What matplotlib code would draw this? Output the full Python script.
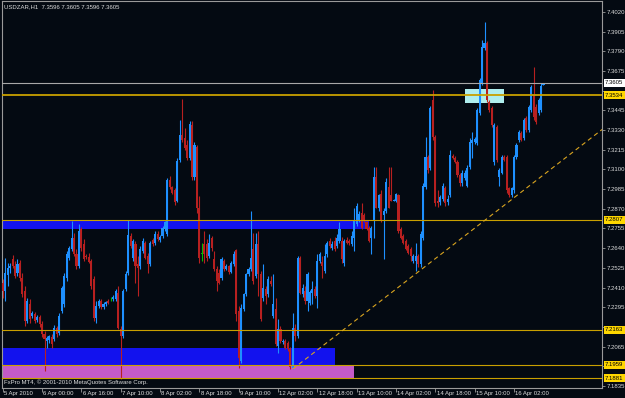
import matplotlib
matplotlib.use("Agg")
import matplotlib.pyplot as plt
import matplotlib.transforms as mtransforms
from matplotlib.patches import Rectangle

plt.rcParams['font.family'] = ['Liberation Sans', 'DejaVu Sans']

# ==========================
# DATA  (USDZAR, H1)
# ==========================
opens = [
    7.2438, 7.2391, 7.2485, 7.2526, 7.2579, 7.2538, 7.2497, 7.2555, 7.2467, 7.2391,
    7.2215, 7.2315, 7.2245, 7.2256, 7.2221, 7.2239, 7.2198, 7.2139, 7.2098, 7.2104,
    7.2122, 7.2110, 7.2174, 7.2145, 7.2274, 7.2315, 7.2467, 7.2584, 7.2637, 7.2702,
    7.2608, 7.2538, 7.2754, 7.2666, 7.2596, 7.2590, 7.2567, 7.2461, 7.2233, 7.2303,
    7.2333, 7.2297, 7.2315, 7.2333, 7.2344, 7.2344, 7.2344, 7.2379, 7.2169, 7.2128,
    7.2403, 7.2497, 7.2713, 7.2584, 7.2666, 7.2549, 7.2538, 7.2626, 7.2672, 7.2596,
    7.2549, 7.2690, 7.2672, 7.2725, 7.2690, 7.2713, 7.2754, 7.2725, 7.3041, 7.2995,
    7.2977, 7.2918, 7.3153, 7.3299, 7.3282, 7.3241, 7.3164, 7.3358, 7.3053, 7.3229,
    7.2877, 7.2608, 7.2666, 7.2666, 7.2596, 7.2702, 7.2579, 7.2520, 7.2497, 7.2467,
    7.2567, 7.2520, 7.2538, 7.2502, 7.2549, 7.2631, 7.2274, 7.1981, 7.2286, 7.2374,
    7.2491, 7.2520, 7.2637, 7.2479, 7.2666, 7.2491, 7.2350, 7.2403, 7.2374, 7.2450,
    7.2245, 7.2286, 7.2069, 7.2169, 7.2092, 7.2098, 7.2087, 7.2051, 7.1940, 7.2174,
    7.2128, 7.2584, 7.2374, 7.2391, 7.2333, 7.2321, 7.2379, 7.2403, 7.2362, 7.2567,
    7.2561, 7.2508, 7.2608, 7.2684, 7.2643, 7.2684, 7.2655, 7.2684, 7.2684, 7.2555,
    7.2690, 7.2684, 7.2666, 7.2702, 7.2784, 7.2801, 7.2848, 7.2831, 7.2790, 7.2760,
    7.2702, 7.2801, 7.3053, 7.2872, 7.2959, 7.2831, 7.2860, 7.2995, 7.2948, 7.2918,
    7.2918, 7.2948, 7.2754, 7.2713, 7.2684, 7.2655, 7.2637, 7.2567, 7.2567, 7.2596,
    7.2549, 7.2702, 7.2995, 7.3170, 7.3106, 7.3504, 7.3287, 7.2918, 7.2907, 7.2930,
    7.2989, 7.2907, 7.2948, 7.3176, 7.3164, 7.3141, 7.3065, 7.3018, 7.3047, 7.3006,
    7.3112, 7.3252, 7.3258, 7.3252, 7.3428, 7.3604, 7.3809, 7.3838, 7.3492, 7.3457,
    7.3141, 7.3346, 7.3053, 7.3082, 7.3170, 7.3170, 7.2989, 7.2948, 7.2977, 7.3170,
    7.3270, 7.3311, 7.3282, 7.3399, 7.3329, 7.3446, 7.3533, 7.3463, 7.3428, 7.3446,
    7.3596,
]
highs = [
    7.2461, 7.2584, 7.2555, 7.2555, 7.2602, 7.2567, 7.2579, 7.2573, 7.2497, 7.2420,
    7.2350, 7.2344, 7.2274, 7.2268, 7.2251, 7.2251, 7.2215, 7.2157, 7.2128, 7.2133,
    7.2139, 7.2192, 7.2186, 7.2262, 7.2420, 7.2497, 7.2626, 7.2655, 7.2801, 7.2731,
    7.2637, 7.2784, 7.2766, 7.2696, 7.2608, 7.2614, 7.2579, 7.2479, 7.2333, 7.2344,
    7.2344, 7.2327, 7.2333, 7.2344, 7.2356, 7.2368, 7.2403, 7.2420, 7.2186, 7.2403,
    7.2508, 7.2807, 7.2731, 7.2696, 7.2684, 7.2596, 7.2655, 7.2702, 7.2684, 7.2614,
    7.2684, 7.2702, 7.2743, 7.2743, 7.2719, 7.2772, 7.2801, 7.3047, 7.3059, 7.3006,
    7.2989, 7.3164, 7.3387, 7.3510, 7.3340, 7.3270, 7.3381, 7.3381, 7.3258, 7.3241,
    7.2942, 7.2672, 7.2743, 7.2696, 7.2725, 7.2713, 7.2626, 7.2538, 7.2520, 7.2590,
    7.2579, 7.2549, 7.2543, 7.2567, 7.2626, 7.2637, 7.2303, 7.2315, 7.2379, 7.2497,
    7.2532, 7.2860, 7.2731, 7.2731, 7.2743, 7.2508, 7.2549, 7.2420, 7.2479, 7.2479,
    7.2491, 7.2350, 7.2227, 7.2186, 7.2110, 7.2110, 7.2098, 7.2063, 7.2262, 7.2198,
    7.2596, 7.2596, 7.2432, 7.2420, 7.2502, 7.2397, 7.2450, 7.2420, 7.2608, 7.2620,
    7.2596, 7.2666, 7.2684, 7.2702, 7.2684, 7.2707, 7.2725, 7.2790, 7.2707, 7.2696,
    7.2707, 7.2696, 7.2743, 7.2877, 7.2901, 7.2860, 7.2901, 7.2848, 7.2801, 7.2772,
    7.2772, 7.3112, 7.3112, 7.2959, 7.2977, 7.2872, 7.3047, 7.3112, 7.3112, 7.2930,
    7.2965, 7.2959, 7.2766, 7.2725, 7.2696, 7.2666, 7.2649, 7.2608, 7.2672, 7.2608,
    7.2743, 7.3018, 7.3287, 7.3182, 7.3469, 7.3563, 7.3299, 7.2977, 7.2948, 7.3018,
    7.3006, 7.2948, 7.3211, 7.3188, 7.3176, 7.3153, 7.3077, 7.3094, 7.3094, 7.3123,
    7.3282, 7.3317, 7.3287, 7.3457, 7.3633, 7.3856, 7.3961, 7.3850, 7.3504, 7.3469,
    7.3369, 7.3358, 7.3106, 7.3182, 7.3182, 7.3182, 7.3000, 7.3000, 7.3182, 7.3252,
    7.3329, 7.3323, 7.3399, 7.3410, 7.3475, 7.3592, 7.3698, 7.3481, 7.3516, 7.3604,
    7.3605,
]
lows = [
    7.2350, 7.2333, 7.2420, 7.2497, 7.2526, 7.2467, 7.2479, 7.2450, 7.2356, 7.2186,
    7.2204, 7.2204, 7.2233, 7.2204, 7.2210, 7.2180, 7.2122, 7.1923, 7.2057, 7.2087,
    7.2057, 7.2098, 7.2122, 7.2133, 7.2262, 7.2297, 7.2450, 7.2573, 7.2626, 7.2596,
    7.2520, 7.2526, 7.2626, 7.2567, 7.2579, 7.2555, 7.2403, 7.2215, 7.2204, 7.2292,
    7.2286, 7.2286, 7.2303, 7.2315, 7.2333, 7.2333, 7.2333, 7.2169, 7.1876, 7.2116,
    7.2391, 7.2485, 7.2643, 7.2567, 7.2438, 7.2362, 7.2520, 7.2614, 7.2579, 7.2497,
    7.2538, 7.2655, 7.2661, 7.2684, 7.2678, 7.2702, 7.2743, 7.2713, 7.2983, 7.2954,
    7.2895, 7.2907, 7.3141, 7.3258, 7.3211, 7.3153, 7.3153, 7.3036, 7.3041, 7.2848,
    7.2555, 7.2567, 7.2555, 7.2567, 7.2584, 7.2626, 7.2508, 7.2391, 7.2432, 7.2456,
    7.2508, 7.2514, 7.2491, 7.2497, 7.2538, 7.2215, 7.1940, 7.1969, 7.2274, 7.2362,
    7.2479, 7.2508, 7.2432, 7.2467, 7.2362, 7.2215, 7.2333, 7.2315, 7.2356, 7.2420,
    7.2233, 7.2069, 7.2028, 7.2087, 7.2081, 7.2051, 7.2040, 7.1934, 7.1934, 7.2098,
    7.2116, 7.2374, 7.2356, 7.2315, 7.2274, 7.2309, 7.2315, 7.2350, 7.2292, 7.2555,
    7.2467, 7.2497, 7.2590, 7.2643, 7.2631, 7.2626, 7.2643, 7.2672, 7.2555, 7.2538,
    7.2666, 7.2661, 7.2655, 7.2626, 7.2772, 7.2790, 7.2754, 7.2790, 7.2749, 7.2678,
    7.2608, 7.2702, 7.2872, 7.2860, 7.2790, 7.2579, 7.2848, 7.2872, 7.2913, 7.2913,
    7.2907, 7.2731, 7.2696, 7.2666, 7.2631, 7.2608, 7.2567, 7.2555, 7.2508, 7.2532,
    7.2532, 7.2690, 7.2983, 7.3082, 7.3094, 7.3270, 7.2889, 7.2883, 7.2895, 7.2918,
    7.2889, 7.2895, 7.2936, 7.3159, 7.3135, 7.3053, 7.3006, 7.3006, 7.3036, 7.2995,
    7.3100, 7.3164, 7.3246, 7.3241, 7.3416, 7.3592, 7.3797, 7.3492, 7.3434, 7.3346,
    7.3123, 7.3141, 7.3006, 7.3071, 7.3147, 7.2965, 7.2936, 7.2936, 7.2965, 7.3159,
    7.3258, 7.3264, 7.3270, 7.3317, 7.3317, 7.3434, 7.3387, 7.3364, 7.3416, 7.3434,
    7.3596,
]
closes = [
    7.2391, 7.2497, 7.2526, 7.2538, 7.2538, 7.2479, 7.2549, 7.2467, 7.2374, 7.2215,
    7.2333, 7.2227, 7.2262, 7.2215, 7.2239, 7.2198, 7.2139, 7.2110, 7.2116, 7.2128,
    7.2081, 7.2174, 7.2139, 7.2245, 7.2409, 7.2479, 7.2608, 7.2643, 7.2702, 7.2608,
    7.2538, 7.2743, 7.2643, 7.2579, 7.2590, 7.2561, 7.2420, 7.2233, 7.2303, 7.2333,
    7.2297, 7.2315, 7.2327, 7.2321, 7.2344, 7.2356, 7.2391, 7.2174, 7.2128, 7.2391,
    7.2491, 7.2719, 7.2655, 7.2684, 7.2538, 7.2526, 7.2637, 7.2684, 7.2584, 7.2549,
    7.2672, 7.2666, 7.2725, 7.2696, 7.2707, 7.2760, 7.2790, 7.3036, 7.2995, 7.2965,
    7.2907, 7.3147, 7.3299, 7.3270, 7.3223, 7.3164, 7.3364, 7.3053, 7.3241, 7.2877,
    7.2584, 7.2608, 7.2608, 7.2584, 7.2672, 7.2643, 7.2520, 7.2450, 7.2438, 7.2579,
    7.2520, 7.2538, 7.2502, 7.2555, 7.2608, 7.2256, 7.1999, 7.2292, 7.2374, 7.2491,
    7.2520, 7.2584, 7.2450, 7.2666, 7.2491, 7.2227, 7.2409, 7.2362, 7.2461, 7.2432,
    7.2315, 7.2081, 7.2169, 7.2098, 7.2098, 7.2057, 7.2051, 7.1946, 7.2174, 7.2128,
    7.2584, 7.2379, 7.2409, 7.2333, 7.2491, 7.2385, 7.2403, 7.2362, 7.2567, 7.2608,
    7.2538, 7.2596, 7.2672, 7.2655, 7.2666, 7.2637, 7.2702, 7.2754, 7.2579, 7.2684,
    7.2672, 7.2672, 7.2713, 7.2801, 7.2889, 7.2842, 7.2760, 7.2801, 7.2754, 7.2684,
    7.2760, 7.3053, 7.2877, 7.2948, 7.2801, 7.2860, 7.3024, 7.2877, 7.2918, 7.2924,
    7.2954, 7.2743, 7.2702, 7.2672, 7.2637, 7.2614, 7.2596, 7.2596, 7.2596, 7.2549,
    7.2725, 7.3006, 7.3170, 7.3094, 7.3457, 7.3287, 7.2901, 7.2901, 7.2936, 7.3006,
    7.2901, 7.2930, 7.3182, 7.3164, 7.3141, 7.3065, 7.3018, 7.3077, 7.3077, 7.3106,
    7.3258, 7.3270, 7.3276, 7.3446, 7.3621, 7.3815, 7.3838, 7.3504, 7.3446, 7.3358,
    7.3358, 7.3153, 7.3094, 7.3170, 7.3153, 7.2977, 7.2948, 7.2989, 7.3170, 7.3241,
    7.3317, 7.3270, 7.3387, 7.3329, 7.3463, 7.3580, 7.3405, 7.3375, 7.3504, 7.3586,
    7.3605,
]

# time axis labels (every 16 bars)
tick_bars = [0, 16, 32, 48, 64, 80, 96, 112, 128, 144, 160, 176, 192, 208]
tick_labels = ["5 Apr 2010", "6 Apr 00:00", "6 Apr 16:00", "7 Apr 10:00",
               "8 Apr 02:00", "8 Apr 18:00", "9 Apr 10:00", "12 Apr 02:00",
               "12 Apr 18:00", "13 Apr 10:00", "14 Apr 02:00", "14 Apr 18:00",
               "15 Apr 10:00", "16 Apr 02:00"]

# price scale (labels hidden behind the line boxes are left blank)
price_ticks = [7.1835, 7.1950, 7.2065, 7.2180, 7.2295, 7.2410, 7.2525, 7.2640,
               7.2755, 7.2870, 7.2985, 7.3100, 7.3215, 7.3330, 7.3445, 7.3560,
               7.3675, 7.3790, 7.3905, 7.4020]
hidden_ticks = [7.1950, 7.2180, 7.3560]

# horizontal lines
hlines = [7.3534, 7.2807, 7.2163, 7.1959, 7.1881]
bid_price = 7.3605

# rectangles: (bar_from, bar_to, price_low, price_high, colour)
rects = [
    (-10, 149, 7.2752, 7.2800, "#1212EE"),
    (-10, 135, 7.1955, 7.2055, "#1212EE"),
    (-10, 143, 7.1881, 7.1953, "#C45AC8"),
    (188, 204, 7.3488, 7.3570, "#AFEEEE"),
]

# trend line anchors (bar, price)
trend_a = (118, 7.1934)
trend_b = (168, 7.2490)

# ==========================
# STYLE
# ==========================
BG = "#040a12"
BULL = "#1E90FF"
BEAR = "#B82020"
DOJI = "#00C000"
GOLD = "#C9A000"
BOX = "#FFD700"
FRAME = "#9a9a9a"
TXT = "#DCDCDC"
FS = 4.3

fig = plt.figure(figsize=(6.25, 3.98), dpi=100, facecolor=BG)
ax = fig.add_axes([2 / 625, 10 / 398, 600 / 625, 387 / 398])
ax.set_facecolor(BG)

# rectangles (background objects)
for b0, b1, lo, hi, col in rects:
    ax.add_patch(Rectangle((b0, lo), b1 - b0, hi - lo, facecolor=col,
                           edgecolor="none", zorder=1))

# candles
for i in range(len(opens)):
    o, h, l, c = opens[i], highs[i], lows[i], closes[i]
    if abs(c - o) < 0.00005:
        col = DOJI
    elif c > o:
        col = BULL
    else:
        col = BEAR
    ax.vlines(i, l, h, color=col, lw=0.8, zorder=3)
    body = max(abs(c - o), 0.00012)
    ax.bar(i, body, bottom=min(o, c), width=0.85, color=col,
           linewidth=0, zorder=3)

# horizontal lines
for p in hlines:
    lw = 1.3 if p == hlines[0] else 0.8
    ax.axhline(p, color=GOLD, lw=lw, zorder=4)
ax.axhline(bid_price, color="#a8a8a8", lw=0.8, zorder=4)

# trend line (ray to the right)
slope = (trend_b[1] - trend_a[1]) / (trend_b[0] - trend_a[0])
x_end = 260
ax.plot([trend_a[0], x_end], [trend_a[1], trend_a[1] + slope * (x_end - trend_a[0])],
        color="#DAA520", lw=0.8, ls=(0, (4, 3)), zorder=4)

ax.set_xlim(-0.3, 243.8)
ax.set_ylim(7.1823, 7.4084)

# frame
for s in ax.spines.values():
    s.set_color(FRAME)
    s.set_linewidth(0.8)

# price axis
ax.yaxis.tick_right()
ax.set_yticks(price_ticks)
ax.set_yticklabels(["" if p in hidden_ticks else f"{p:.4f}" for p in price_ticks])
ax.tick_params(axis="y", direction="out", length=2, width=0.6, pad=1,
               labelsize=FS, colors=TXT)
ax.tick_params(axis="y", color=FRAME)

# time axis
ax.set_xticks(tick_bars)
ax.set_xticklabels([""] * len(tick_bars))
ax.tick_params(axis="x", direction="out", length=3, width=0.6, color=FRAME)
xtrans = mtransforms.blended_transform_factory(ax.transData, ax.transAxes)
for b, lab in zip(tick_bars, tick_labels):
    ax.text(b + 0.5, -0.0135, lab, transform=xtrans, ha="left", va="center",
            fontsize=FS, color=TXT, clip_on=False)

# price boxes on the right axis
ytrans = mtransforms.blended_transform_factory(ax.transAxes, ax.transData)
for p in hlines:
    ax.text(1.0 + 3 / 600, p, f"{p:.4f}", transform=ytrans, ha="left", va="center",
            fontsize=FS, color="black", zorder=10, clip_on=False,
            bbox=dict(boxstyle="square,pad=0.25", fc=BOX, ec="none"))
ax.text(1.0 + 3 / 600, bid_price, f"{bid_price:.4f}", transform=ytrans, ha="left",
        va="center", fontsize=FS, color="black", zorder=10, clip_on=False,
        bbox=dict(boxstyle="square,pad=0.25", fc="white", ec="none"))

# header + copyright
ax.text(2 / 600, 1 - 6 / 387, "USDZAR,H1  7.3596 7.3605 7.3596 7.3605",
        transform=ax.transAxes, ha="left", va="center", fontsize=FS, color=TXT)
ax.text(2 / 600, 6 / 387, "FxPro MT4, \u00a9 2001-2010 MetaQuotes Software Corp.",
        transform=ax.transAxes, ha="left", va="center", fontsize=FS, color=TXT,
        zorder=6)

fig.savefig("out.png", dpi=100, facecolor=BG)
